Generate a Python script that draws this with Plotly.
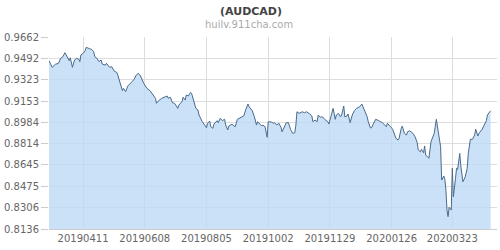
import pandas as pd
import plotly.graph_objects as go

base_date = "2019-03-10"
day_offsets = [0, 3, 6, 9, 11, 13, 15, 17, 19, 20, 22, 24, 26, 28, 29, 30, 32, 34, 35, 38,
               40, 42, 43, 45, 47, 49, 50, 53, 54, 56, 57, 59, 61, 64, 65, 67, 69, 70, 72, 74,
               76, 78, 80, 82, 84, 86, 89, 91, 92, 95, 97, 100, 101, 103, 106, 108, 111, 112, 114, 116,
               118, 121, 122, 125, 126, 128, 129, 131, 133, 134, 136, 138, 140, 141, 144, 146, 148, 149, 151, 152,
               154, 155, 158, 159, 161, 163, 165, 166, 168, 169, 172, 173, 175, 177, 179, 181, 183, 185, 187, 188,
               190, 191, 193, 195, 196, 198, 200, 201, 203, 205, 206, 209, 211, 212, 214, 216, 218, 219, 221, 223,
               225, 227, 229, 231, 232, 233, 235, 238, 240, 242, 245, 247, 248, 250, 252, 253, 255, 257, 259, 262,
               263, 266, 267, 269, 270, 272, 274, 275, 277, 278, 280, 281, 283, 285, 287, 289, 292, 294, 295, 297,
               299, 300, 302, 303, 305, 307, 310, 311, 313, 315, 317, 318, 320, 321, 323, 324, 326, 328, 329, 331,
               332, 334, 336, 337, 339, 342, 344, 346, 347, 349, 350, 352, 353, 354, 356, 357, 359, 361, 362, 364,
               365, 366, 368, 369, 371, 372, 373, 374, 375, 376, 378, 379, 380, 382, 383, 384, 386, 387, 388, 389,
               391, 393, 394, 396, 398, 400, 401, 403, 404, 407, 409, 411, 412, 414, 415]
rates = [0.9474, 0.9421, 0.9445, 0.9453, 0.9493, 0.9505, 0.9537, 0.9505, 0.9474, 0.9497,
         0.9421, 0.9479, 0.9493, 0.9485, 0.9466, 0.9519, 0.9532, 0.9553, 0.9580, 0.9569,
         0.9564, 0.9545, 0.9505, 0.9493, 0.9466, 0.9479, 0.9447, 0.9439, 0.9453, 0.9431,
         0.9421, 0.9426, 0.9394, 0.9378, 0.9346, 0.9280, 0.9235, 0.9254, 0.9227, 0.9272,
         0.9294, 0.9307, 0.9326, 0.9360, 0.9373, 0.9352, 0.9294, 0.9272, 0.9254, 0.9235,
         0.9214, 0.9175, 0.9135, 0.9156, 0.9175, 0.9183, 0.9193, 0.9175, 0.9183, 0.9140,
         0.9135, 0.9095, 0.9121, 0.9148, 0.9183, 0.9161, 0.9201, 0.9193, 0.9222, 0.9214,
         0.9148, 0.9095, 0.9082, 0.9042, 0.8989, 0.8962, 0.8941, 0.8976, 0.8994, 0.8949,
         0.8936, 0.8970, 0.8997, 0.8981, 0.9016, 0.8997, 0.9008, 0.8962, 0.8923, 0.8954,
         0.8970, 0.8960, 0.8949, 0.9008, 0.9016, 0.9024, 0.9034, 0.9087, 0.9129, 0.9108,
         0.9082, 0.9076, 0.9028, 0.8962, 0.8989, 0.8975, 0.8954, 0.8962, 0.8949, 0.8865,
         0.8989, 0.8986, 0.8976, 0.8981, 0.8962, 0.8976, 0.8944, 0.8909, 0.8949, 0.8981,
         0.8981, 0.8928, 0.8896, 0.8901, 0.8962, 0.9068, 0.9055, 0.9068, 0.9060, 0.9068,
         0.9050, 0.9034, 0.8989, 0.9002, 0.8989, 0.9042, 0.9024, 0.9028, 0.9008, 0.8989,
         0.8970, 0.9068, 0.9095, 0.9008, 0.9042, 0.9055, 0.9028, 0.9042, 0.9113, 0.9028,
         0.9034, 0.9050, 0.8981, 0.9042, 0.9076, 0.9095, 0.9108, 0.9129, 0.9108, 0.9068,
         0.9028, 0.8989, 0.8940, 0.8940, 0.8980, 0.9008, 0.8997, 0.8989, 0.8984, 0.8970,
         0.8949, 0.8976, 0.8962, 0.8949, 0.8928, 0.8901, 0.8857, 0.8843, 0.8857, 0.8936,
         0.8954, 0.8896, 0.8883, 0.8909, 0.8917, 0.8896, 0.8870, 0.8822, 0.8764, 0.8750,
         0.8769, 0.8742, 0.8796, 0.8724, 0.8710, 0.8698, 0.8830, 0.8870, 0.8896, 0.9008,
         0.8949, 0.8909, 0.8790, 0.8525, 0.8557, 0.8531, 0.8446, 0.8287, 0.8234, 0.8308,
         0.8287, 0.8618, 0.8392, 0.8539, 0.8618, 0.8610, 0.8737, 0.8637, 0.8591, 0.8512,
         0.8547, 0.8618, 0.8737, 0.8849, 0.8849, 0.8883, 0.8928, 0.8875, 0.8896, 0.8928,
         0.8962, 0.8997, 0.9042, 0.9068, 0.9076]

x_tick_dates = ["2019-04-11", "2019-06-08", "2019-08-05", "2019-10-02",
                "2019-11-29", "2020-01-26", "2020-03-23"]
x_tick_labels = ["20190411", "20190608", "20190805", "20191002",
                 "20191129", "20200126", "20200323"]
y_ticks = [0.8136, 0.8306, 0.8475, 0.8645, 0.8814, 0.8984, 0.9153, 0.9323, 0.9492, 0.9662]
y_tick_labels = ["%.4f" % v for v in y_ticks]

dates = pd.Timestamp(base_date) + pd.to_timedelta(day_offsets, unit="D")

fig = go.Figure()
fig.add_trace(go.Scatter(
    x=dates, y=rates, mode="lines",
    line=dict(color="#4a6b8c", width=1),
    fill="tozeroy", fillcolor="rgba(190,218,245,0.8)",
    hoverinfo="skip", showlegend=False,
))

fig.update_layout(
    width=500, height=250,
    margin=dict(l=49, r=3, t=37, b=21),
    paper_bgcolor="white", plot_bgcolor="white",
    font=dict(family="DejaVu Sans", size=10, color="#666666"),
    xaxis=dict(
        range=[pd.Timestamp(base_date), pd.Timestamp(base_date) + pd.Timedelta(days=421)],
        tickvals=pd.to_datetime(x_tick_dates), ticktext=x_tick_labels,
        showgrid=True, gridcolor="#dddddd", gridwidth=1,
        showline=True, linecolor="#cccccc",
        ticks="", tickfont=dict(size=10, color="#666666"),
        zeroline=False,
    ),
    yaxis=dict(
        range=[y_ticks[0], y_ticks[-1]],
        tickvals=y_ticks, ticktext=y_tick_labels,
        showgrid=True, gridcolor="#dddddd", gridwidth=1,
        ticks="outside", ticklen=7, tickcolor="#cccccc",
        showline=False, zeroline=False,
        tickfont=dict(size=10, color="#666666"),
    ),
    annotations=[
        dict(text="<b>(AUDCAD)</b>", x=0.5, y=1, xref="paper", yref="paper",
             xanchor="center", yanchor="top", yshift=37 - 3, xshift=-22,
             showarrow=False, font=dict(size=11, color="#444444")),
        dict(text="huilv.911cha.com", x=0.5, y=1, xref="paper", yref="paper",
             xanchor="center", yanchor="top", yshift=37 - 17, xshift=-24,
             showarrow=False, font=dict(size=10, color="#aaaaaa")),
    ],
)

fig.write_html("out.html")
